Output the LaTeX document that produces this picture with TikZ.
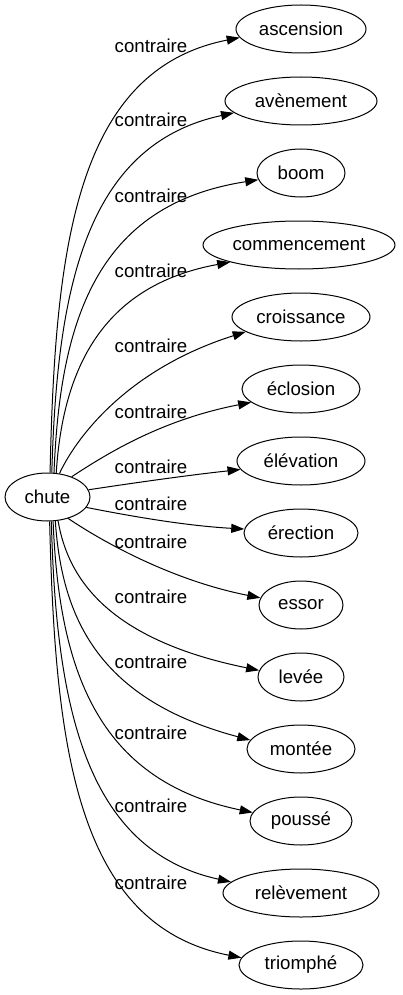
\documentclass[tikz,border=0pt]{standalone}
\usepackage{fontspec}
\setmainfont{Liberation Sans}
\usetikzlibrary{shapes.geometric,arrows.meta}
\begin{document}
\begin{tikzpicture}[x=1pt,y=-1pt,
  nd/.style={draw, ellipse, inner sep=0pt, minimum height=48pt, line width=1pt,
    font=\fontsize{18.67pt}{22pt}\selectfont},
  lbl/.style={inner sep=0pt, font=\fontsize{18.67pt}{22pt}\selectfont},
  edge/.style={line width=1pt, -{Triangle[length=13pt,width=9pt]}}]
\useasboundingbox (0,0) rectangle (403,995);
% nodes
\node[nd, minimum width=85pt]  (chute)        at (47.5,497) {chute};
\node[nd, minimum width=130pt] (ascension)    at (301,29)  {ascension};
\node[nd, minimum width=152pt] (avenement)    at (301,101) {avènement};
\node[nd, minimum width=88pt]  (boom)         at (301,173) {boom};
\node[nd, minimum width=192pt] (commencement) at (299,245) {commencement};
\node[nd, minimum width=138pt] (croissance)   at (301,317) {croissance};
\node[nd, minimum width=118pt] (eclosion)     at (301,389) {éclosion};
\node[nd, minimum width=128pt] (elevation)    at (301,461) {élévation};
\node[nd, minimum width=114pt] (erection)     at (301,533) {érection};
\node[nd, minimum width=84pt]  (essor)        at (301,605) {essor};
\node[nd, minimum width=86pt]  (levee)        at (301,677) {levée};
\node[nd, minimum width=108pt] (montee)       at (301,749) {montée};
\node[nd, minimum width=102pt] (pousse)       at (301,821) {poussé};
\node[nd, minimum width=156pt] (relevement)   at (301,893) {relèvement};
\node[nd, minimum width=124pt] (triomphe)     at (301,965) {triomphé};
% labels
\node[lbl] (l1)  at (151,46)  {contraire};
\node[lbl] (l2)  at (151,120) {contraire};
\node[lbl] (l3)  at (151,196) {contraire};
\node[lbl] (l4)  at (151,271) {contraire};
\node[lbl] (l5)  at (151,346) {contraire};
\node[lbl] (l6)  at (151,412) {contraire};
\node[lbl] (l7)  at (151,467) {contraire};
\node[lbl] (l8)  at (151,504) {contraire};
\node[lbl] (l9)  at (151,542) {contraire};
\node[lbl] (l10) at (151,597) {contraire};
\node[lbl] (l11) at (151,662) {contraire};
\node[lbl] (l12) at (151,733) {contraire};
\node[lbl] (l13) at (151,806) {contraire};
\node[lbl] (l14) at (151,883) {contraire};
% edges
\draw[edge] (chute.84) .. controls (55,250) and (75,70) .. (ascension.188);
\draw[edge] (chute.80) .. controls (57,290) and (85,145) .. (avenement.190);
\draw[edge] (chute.75) .. controls (60,323) and (95,205) .. (boom.189);
\draw[edge] (chute.70) .. controls (63,365) and (105,285) .. (commencement.194);
\draw[edge] (chute.63) .. controls (75,440) and (125,370) .. (croissance.195);
\draw[edge] (chute.40) .. controls (105,455) and (160,420) .. (eclosion.195);
\draw[edge] (chute.10) .. controls (140,482) and (190,475) .. (elevation.188);
\draw[edge] (chute.-15) .. controls (140,518) and (190,526) .. (erection.176);
\draw[edge] (chute.-46) .. controls (100,540) and (170,580) .. (essor.170);
\draw[edge] (chute.-66) .. controls (68,580) and (110,640) .. (levee.171);
\draw[edge] (chute.-72) .. controls (62,620) and (100,700) .. (montee.170);
\draw[edge] (chute.-77) .. controls (59,666) and (95,780) .. (pousse.170);
\draw[edge] (chute.-81) .. controls (56,705) and (85,850) .. (relevement.171);
\draw[edge] (chute.-85) .. controls (55,744) and (75,925) .. (triomphe.173);
\end{tikzpicture}
\end{document}
